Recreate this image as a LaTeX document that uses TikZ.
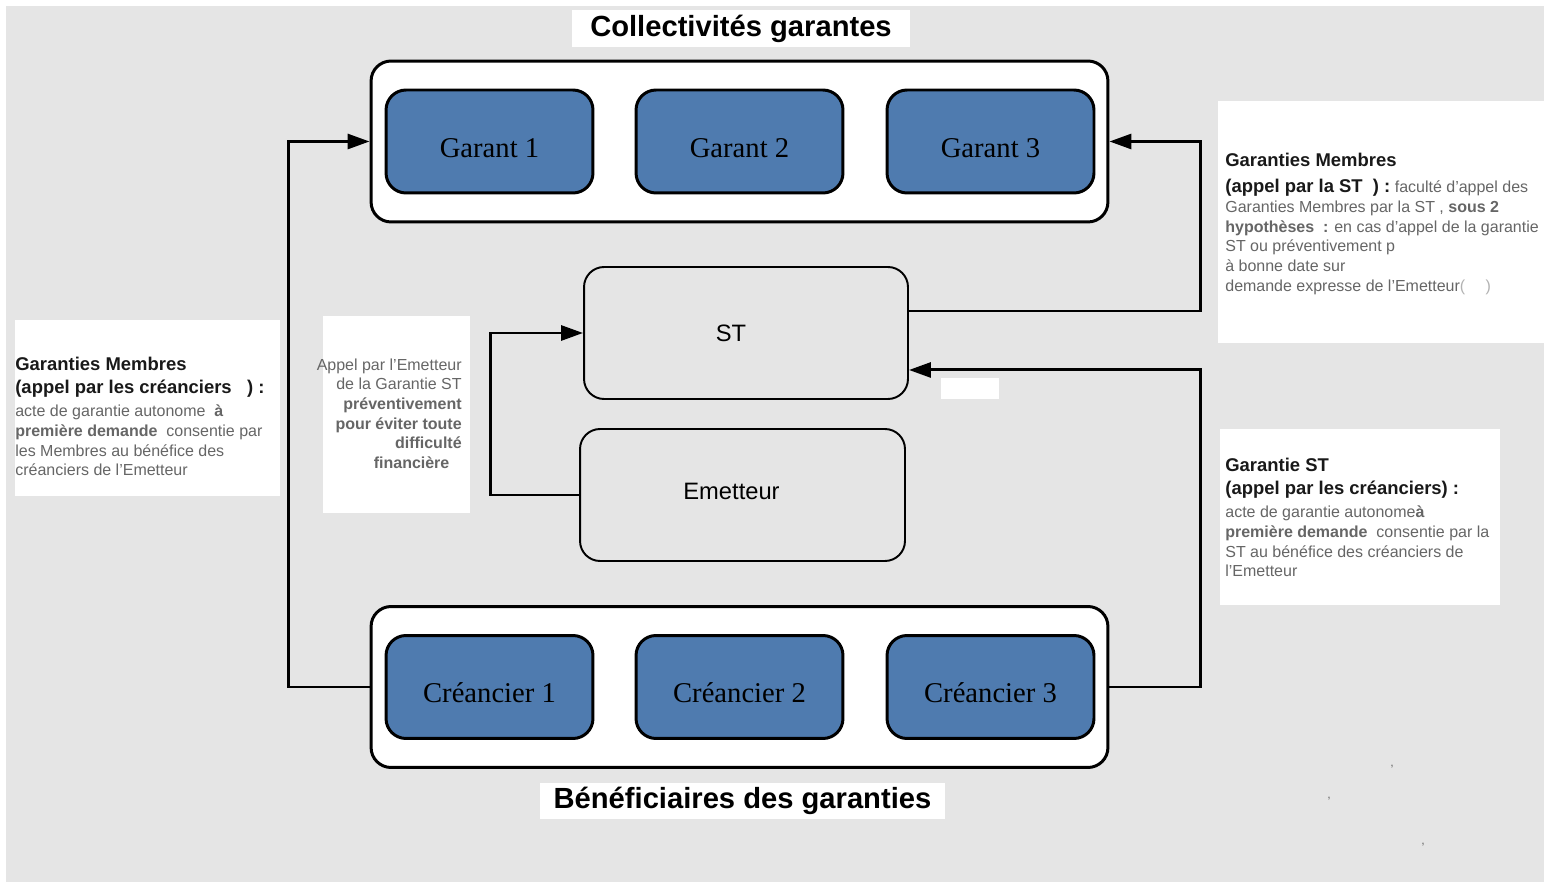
\documentclass[tikz,border=0pt]{standalone}
\usepackage{fontspec}
\setmainfont{Liberation Sans}
\newfontfamily\garantfont{Liberation Serif}
\usetikzlibrary{arrows.meta,positioning}
\definecolor{garantblue}{HTML}{4F7BAF}
\definecolor{notegray}{HTML}{666666}
\definecolor{bggray}{HTML}{E5E5E5}
\newcommand\notehead[1]{{\color{black!90}\bfseries\fontsize{10.5}{11.2}\selectfont #1}}

\begin{document}
\begin{tikzpicture}[x=0.02cm, y=-0.02cm,
    group/.style={draw, line width=1.7pt, fill=white, rounded corners=0.4cm, minimum width=14.74cm, minimum height=3.22cm},
    member/.style={draw, line width=1.7pt, fill=garantblue, rounded corners=0.4cm, minimum width=4.14cm, minimum height=2.06cm, text height=18pt, text depth=0pt, font=\garantfont\fontsize{16.3}{19}\selectfont},
    entity/.style={draw, line width=1.1pt, rounded corners=0.4cm, minimum width=6.48cm, minimum height=2.64cm},
    heading/.style={fill=white, inner sep=0pt, font=\bfseries\fontsize{16.6}{20}\selectfont},
    notebox/.style={fill=white, inner sep=0pt},
    note/.style={inner sep=0pt, text=notegray, font=\fontsize{9.1}{11.2}\selectfont},
    link/.style={line width=1.7pt, -{Triangle[length=12.5pt,width=8.5pt]}}]
    % background
    \fill[white] (0,0) rectangle (1544,884);
    \fill[bggray] (6,6) rectangle (1544,882);
    \useasboundingbox (0,0) rectangle (1544,884);

    % titles
    \node[heading, minimum width=6.76cm, minimum height=0.74cm] (toptitle) at (741,28.5) {Collectivités garantes};
    \node[heading, minimum width=8.1cm, minimum height=0.72cm] (bottitle) at (742.5,800.5) {Bénéficiaires des garanties};

    % guarantors
    \node[group] (garants) at (739.5,141.5) {};
    \node[member] (g1) at (489.5,141.5) {Garant 1};
    \node[member] (g2) at (739.5,141.5) {Garant 2};
    \node[member] (g3) at (990.5,141.5) {Garant 3};

    % creditors
    \node[group] (creanciers) at (739.5,687) {};
    \node[member] (c1) at (489.5,687) {Créancier 1};
    \node[member] (c2) at (739.5,687) {Créancier 2};
    \node[member] (c3) at (990.5,687) {Créancier 3};

    % ST and issuer
    \node[entity, label={[xshift=-0.3cm, font=\fontsize{13.5}{16}\selectfont]center:ST}] (st) at (746,333) {};
    \node[entity, minimum width=6.5cm, label={[xshift=-0.22cm, yshift=0.08cm, font=\fontsize{13.5}{16}\selectfont]center:Emetteur}] (emet) at (742.5,495) {};
    \node[notebox, minimum width=1.16cm, minimum height=0.42cm] (blank) at (970,388.5) {};

    % connectors
    \coordinate (rbus) at ([xshift=1.82cm]garants.east);
    \coordinate (sthigh) at ([yshift=0.44cm]st.east);
    \coordinate (stlow) at ([yshift=-0.74cm]st.east);
    \draw[link] (creanciers.west) -- ++(-81,0) |- (garants.west);
    \draw[link] (sthigh) -| (rbus) -- (garants.east);
    \draw[link] (creanciers.east) -| (rbus |- stlow) -- (stlow);
    \draw[link] (emet.west) -- ++(-89,0) |- (st.west);

    % notes
    \node[notebox, minimum width=5.3cm, minimum height=3.52cm] (gmcredbox) at (147.5,408) {};
    \node[note, anchor=west, align=left] (gmcred) at (15,416.5) {%
        \notehead{Garanties Membres}\\[2pt]
        \notehead{(appel par les créanciers\ \ \ ) :}\\[2pt]
        acte de garantie autonome\ \ \textbf{à}\\
        \textbf{première demande}\ \ consentie par\\
        les Membres au bénéfice des\\
        créanciers de l'Emetteur};

    \node[notebox, minimum width=2.94cm, minimum height=3.94cm] (appelbox) at (396.5,414.5) {};
    \node[note, anchor=east, align=right] (appel) at (462,413.5) {%
        Appel par l’Emetteur\\
        de la Garantie ST\\
        \textbf{préventivement}\\
        \textbf{pour éviter toute}\\
        \textbf{difficulté}\\
        \textbf{financière}\hspace*{7pt}};

    \node[notebox, minimum width=6.52cm, minimum height=4.84cm] (gmstbox) at (1381,222) {};
    \node[note, anchor=west, align=left] (gmst) at (1225,224) {%
        \notehead{Garanties Membres}\\[3.5pt]
        \notehead{(appel par la ST\ \ ) :} faculté d’appel des\\
        Garanties Membres par la ST , \textbf{sous 2}\\
        \textbf{hypothèses\ \ :} en cas d’appel de la garantie\\
        ST ou préventivement p\\
        à bonne date sur\\
        demande expresse de l’Emetteur{\color{black!30}(\quad\ )}};

    \node[notebox, minimum width=5.6cm, minimum height=3.52cm] (gstbox) at (1360,517) {};
    \node[note, anchor=west, align=left] (gst) at (1225,517.5) {%
        \notehead{Garantie ST}\\[2pt]
        \notehead{(appel par les créanciers) :}\\[2pt]
        acte de garantie autonome\textbf{à}\\
        \textbf{première demande}\ \ consentie par la\\
        ST au bénéfice des créanciers de\\
        l’Emetteur};

    % stray commas
    \node[note, font=\scriptsize] (comma1) at (1392,767) {,};
    \node[note, font=\scriptsize] (comma2) at (1329,799) {,};
    \node[note, font=\scriptsize] (comma3) at (1423,845) {,};
\end{tikzpicture}
\end{document}
